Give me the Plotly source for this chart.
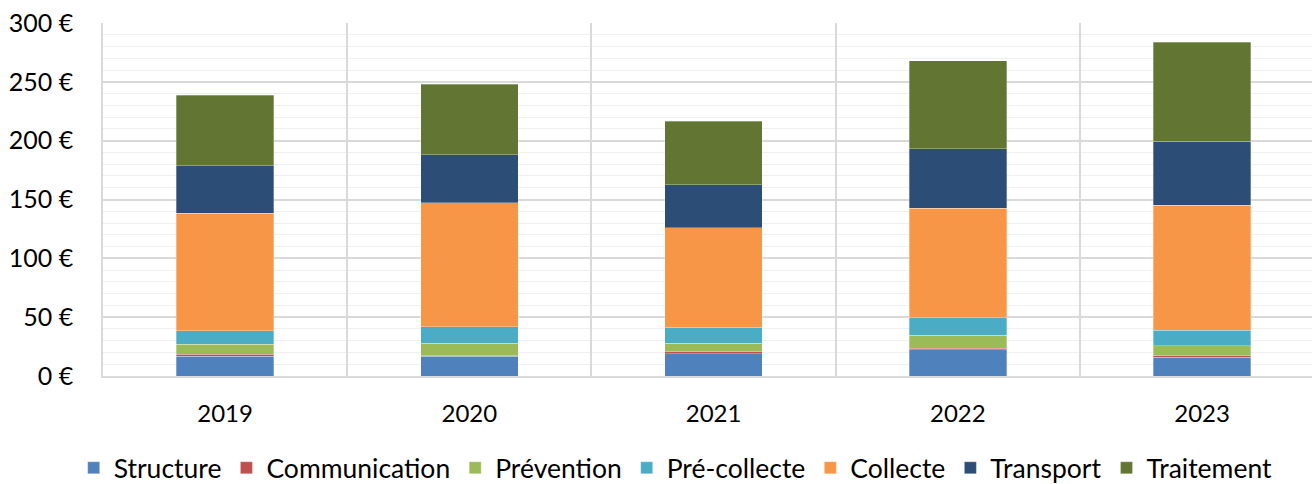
import plotly.graph_objects as go

years = ["2019", "2020", "2021", "2022", "2023"]
series_names = ["Structure", "Communication", "Prévention", "Pré-collecte", "Collecte", "Transport", "Traitement"]
structure = [16.7, 17.0, 19.0, 22.4, 16.1]
communication = [1.7, 0.3, 1.7, 1.4, 1.2]
prevention = [8.5, 10.5, 7.3, 10.8, 8.5]
pre_collecte = [11.4, 14.1, 13.4, 14.7, 13.0]
collecte = [100.2, 105.4, 84.7, 93.2, 106.3]
transport = [40.3, 40.8, 36.6, 50.7, 54.4]
traitement = [60.0, 59.8, 53.8, 74.8, 84.1]
colors = ["#4F81BD", "#C0504D", "#9BBB59", "#4BACC6", "#F79646", "#2C4D75", "#627532"]
tick_vals = [0, 50, 100, 150, 200, 250, 300]
tick_text = ["0 €", "50 €", "100 €", "150 €", "200 €", "250 €", "300 €"]

values = [structure, communication, prevention, pre_collecte, collecte, transport, traitement]
FONT = "Lato, Open Sans, sans-serif"

fig = go.Figure()
for name, vals, col in zip(series_names, values, colors):
    fig.add_trace(go.Bar(
        x=years, y=vals, name=name,
        marker=dict(color=col, line=dict(color="rgba(255,255,255,0.5)", width=0.6)),
        width=0.4,
    ))

fig.update_layout(
    barmode="stack",
    width=1312, height=484,
    margin=dict(l=103, r=0, t=23, b=108, autoexpand=False),
    plot_bgcolor="white", paper_bgcolor="white",
    font=dict(family=FONT, size=25, color="#000000"),
    legend=dict(orientation="h", x=0.515, xanchor="center", xref="container",
                y=0.033, yanchor="middle", yref="container",
                font=dict(size=26.5), itemwidth=30, traceorder="normal"),
    xaxis=dict(type="category", range=[-0.5, 4.45], tickson="boundaries",
               showgrid=True, gridcolor="#d9d9d9", gridwidth=1.5,
               ticks="", showline=True, linecolor="#d9d9d9", linewidth=1.5,
               zeroline=False, automargin=False,
               tickfont=dict(size=24), ticklabelstandoff=15),
    yaxis=dict(range=[0, 300], tickvals=tick_vals, ticktext=tick_text,
               showgrid=True, gridcolor="#d9d9d9", gridwidth=1.5,
               minor=dict(dtick=10, showgrid=True, gridcolor="#f0f0f0", gridwidth=1.2),
               zeroline=False, automargin=False,
               showline=True, linecolor="#d9d9d9", linewidth=1.5,
               ticks="", tickfont=dict(size=25), ticklabelstandoff=23),
    bargap=0.6,
)

fig.write_html("out.html", config={"displayModeBar": False},
               post_script="document.body.style.margin='0';document.body.style.overflow='hidden';")
